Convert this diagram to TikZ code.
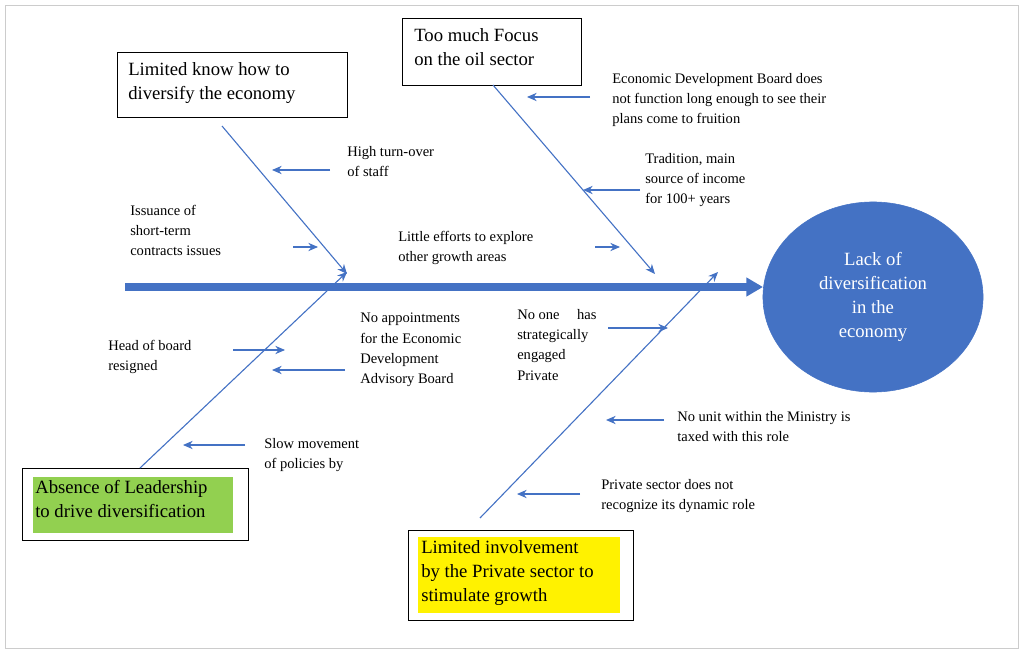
\documentclass[tikz,border=0pt]{standalone}
\usepackage{fontspec}
\setmainfont{Liberation Serif}
\usetikzlibrary{arrows.meta,shapes.geometric}
\definecolor{bl}{HTML}{4472C4}
\definecolor{gr}{HTML}{92D050}
\begin{document}
\begin{tikzpicture}[x=0.01in,y=-0.01in,
  sm/.style={anchor=north west,align=left,inner sep=0pt,font=\fontsize{10.5}{14.6}\selectfont},
  bx/.style={draw,line width=0.6pt,anchor=north west,align=left,inner sep=0pt,font=\fontsize{13.5}{17.5}\selectfont},
  bone/.style={bl,line width=0.8pt,-{Stealth[length=7pt,width=6pt]}},
  ar/.style={bl,line width=0.8pt,-{Stealth[length=7pt,width=6pt]}}]
\useasboundingbox (0,0) rectangle (1024,653);
\draw[gray!40] (5,5) rectangle (1018,648);
% spine
\coordinate (s0) at (125,287);
\node[ellipse,draw=bl,fill=bl,inner sep=0pt,minimum width=2.2in,minimum height=1.9in,text=white,align=center,font=\fontsize{13.5}{17.5}\selectfont] (eff) at (873,297) {Lack of\\diversification\\in the\\economy};
\coordinate (s1) at (763,287);
\draw[bl,line width=5.5pt,-{Triangle[length=12pt,width=13pt]}] (s0) -- (s1);
% boxes
\node[bx,minimum width=2.3in,minimum height=0.65in] (b1) at (117,52) {};
\node[sm,font=\fontsize{13.5}{17.5}\selectfont] (t1) at (128,62) {Limited know how to\\diversify the economy};
\node[bx,minimum width=1.79in,minimum height=0.67in] (b2) at (402,18) {};
\node[sm,font=\fontsize{13.5}{17.5}\selectfont] (t2) at (414,28) {Too much Focus\\on the oil sector};
\node[bx,minimum width=2.26in,minimum height=0.72in] (b3) at (22,468) {};
\fill[gr] (33,477) rectangle (233,533);
\node[sm,font=\fontsize{13.5}{17.5}\selectfont] (t3) at (35,480) {Absence of Leadership\\to drive diversification};
\node[bx,minimum width=2.25in,minimum height=0.9in] (b4) at (408,530) {};
\fill[yellow] (418,537) rectangle (620,613);
\node[sm,font=\fontsize{13.5}{17.5}\selectfont] (t4) at (421,540) {Limited involvement\\by the Private sector to\\stimulate growth};
% bones
\coordinate (c1a) at (222,126); \coordinate (c1b) at (347,274);
\coordinate (c2a) at (493,85); \coordinate (c2b) at (655,274);
\coordinate (c3a) at (140,468); \coordinate (c3b) at (347,272);
\coordinate (c4a) at (480,518); \coordinate (c4b) at (718,272);
\draw[bone] (c1a) -- (c1b);
\draw[bone] (c2a) -- (c2b);
\draw[bone] (c3a) -- (c3b);
\draw[bone] (c4a) -- (c4b);
% small arrows
\coordinate (p1) at (330,170); \coordinate (q1) at (272,170); \draw[ar] (p1)--(q1);
\coordinate (p2) at (590,97); \coordinate (q2) at (527,97); \draw[ar] (p2)--(q2);
\coordinate (p3) at (640,190); \coordinate (q3) at (583,190); \draw[ar] (p3)--(q3);
\coordinate (p4) at (233,350); \coordinate (q4) at (285,350); \draw[ar] (p4)--(q4);
\coordinate (p5) at (345,370); \coordinate (q5) at (272,370); \draw[ar] (p5)--(q5);
\coordinate (p6) at (245,445); \coordinate (q6) at (183,445); \draw[ar] (p6)--(q6);
\coordinate (p7) at (664,420); \coordinate (q7) at (606,420); \draw[ar] (p7)--(q7);
\coordinate (p8) at (580,494); \coordinate (q8) at (517,494); \draw[ar] (p8)--(q8);
\coordinate (p9) at (293,247); \coordinate (q9) at (318,247); \draw[ar] (p9)--(q9);
\coordinate (p10) at (595,247); \coordinate (q10) at (620,247); \draw[ar] (p10)--(q10);
\coordinate (p11) at (608,328); \coordinate (q11) at (668,328); \draw[ar] (p11)--(q11);
% texts
\node[sm] (n1) at (347,146) {High turn-over\\of staff};
\node[sm] (n2) at (612,73) {Economic Development Board does\\not function long enough to see their\\plans come to fruition};
\node[sm] (n3) at (645,153) {Tradition, main\\source of income\\for 100+ years};
\node[sm] (n4) at (130,205) {Issuance of\\short-term\\contracts issues};
\node[sm] (n5) at (398,231) {Little efforts to explore\\other growth areas};
\node[sm] (n6) at (360,313) {No appointments\\for the Economic\\Development\\Advisory Board};
\node[sm] (n7) at (517,309) {No one\hspace{1.2em}has\\strategically\\engaged\\Private};
\node[sm] (n8) at (108,340) {Head of board\\resigned};
\node[sm] (n9) at (264,438) {Slow movement\\of policies by};
\node[sm] (n10) at (677,411) {No unit within the Ministry is\\taxed with this role};
\node[sm] (n11) at (601,479) {Private sector does not\\recognize its dynamic role};
\end{tikzpicture}
\end{document}
